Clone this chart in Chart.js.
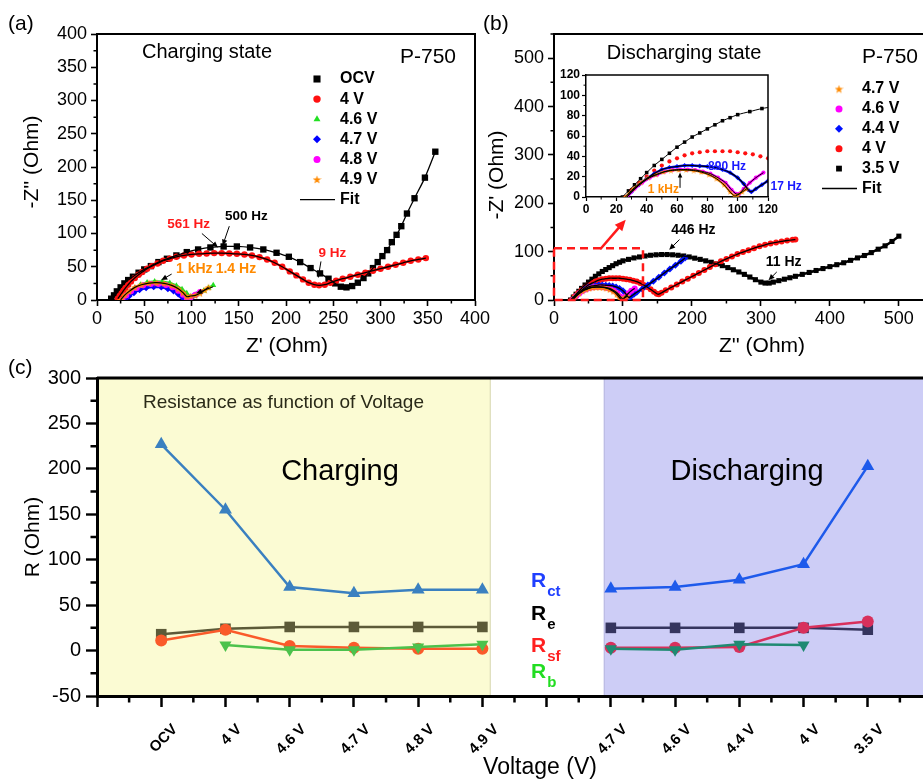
<!DOCTYPE html>
<html>
<head>
<meta charset="utf-8">
<script src="https://cdn.jsdelivr.net/npm/chart.js@4.4.1/dist/chart.umd.min.js"></script>
<style>
  body { margin: 0; background: #fff; width: 923px; height: 780px; overflow: hidden; position: relative; }
  canvas { position: absolute; }
</style>
</head>
<body>
<canvas id="panelA" width="500" height="360" style="left:0px;top:0px"></canvas>
<canvas id="panelB" width="443" height="360" style="left:480px;top:0px"></canvas>
<canvas id="inset" width="280" height="160" style="left:540px;top:60px"></canvas>
<canvas id="panelC" width="923" height="440" style="left:0px;top:340px"></canvas>
<script>
// ---- (a) charging state, Nyquist points [Z', -Z''] in Ohm ----
const ocvCharge = [[15,2],[18,7],[21,13],[25,19],[29,25],[33,30],[38,35],[44,41],[50,46],[57,51],[65,57],[74,62],[84,67],[95,72],[107,76],[120,79],[134,80.5],[148,80.5],[162,79],[176,76],[190,71],[203,65],[215,57],[226,48],[236,40],[245,32],[252,25],[258,20],[264,19],[270,21],[276,26],[282,33],[287,40],[292,48],[297,57],[302,66],[307,75],[312,87],[317,98],[322,111],[328,130],[336,153],[347,184],[358,223]];
const v4Charge = [[22,2],[24,6],[26,10],[28,14],[30,18],[33,23],[36,28],[40,33],[44,38],[48,42],[53,47],[58,51],[64,55],[70,59],[77,62],[84,65],[92,67],[100,68.5],[108,69.5],[116,70],[124,70.5],[132,70.5],[140,70],[148,69.5],[156,68.5],[164,67],[172,64.5],[180,61],[188,56],[196,50],[204,43],[211,37],[218,31],[224,26],[230,23],[235,22],[241,23],[247,26],[253,29],[260,32],[268,35],[276,38],[284,41],[292,44],[300,47],[308,50],[316,53],[324,56],[332,59],[340,61],[348,63]];
const v46Charge = [[28,1],[31,7],[35,13],[40,18],[46,23],[53,26.5],[61,28],[69,27.5],[77,25.5],[84,21.5],[90,16],[95,10],[99,5],[103,6],[108,10],[113,14],[118,18],[123,22]];
const v47Charge = [[30,0],[34,6],[39,11],[45,15.5],[52,18.5],[60,20],[68,19.5],[75,17],[81,13.5],[86,9],[90,4.5],[93,1],[97,2],[101,5],[105,8]];
const v48Charge = [[27,0],[31,7],[36,13],[42,18],[49,22],[57,24],[65,24],[73,22.5],[80,19],[86,14],[91,8],[95,3],[99,4],[104,8],[109,12]];
const v49Charge = [[25,0],[29,7],[34,13],[40,19],[47,23],[55,25.5],[63,26],[71,25],[79,22],[86,17],[91,11],[95,5],[99,6],[104,7],[109,10],[114,15],[118,19]];

// ---- (b) discharging state ----
const v35Dis = [[24,0],[28,6],[32,12],[36,18],[40,24],[45,31],[50,37],[55,43],[60,49],[65,54],[70,59],[75,63],[80,67],[85,71],[90,75],[95,78],[100,81],[108,84],[116,87],[124,89],[132,91],[140,92.5],[148,93.5],[156,94],[164,94],[172,93.5],[180,92.5],[188,91],[196,89],[204,86.5],[212,84],[220,81],[228,78],[236,74.5],[244,71],[252,67],[260,62.5],[268,58],[276,53],[284,47.5],[292,42],[300,37],[306,35],[312,35],[318,37],[326,40],[334,43],[342,46],[350,49],[360,53],[370,57],[380,61],[390,65],[400,69],[410,73],[420,77],[430,82],[440,87],[450,92],[460,98],[470,105],[480,112],[490,121],[500,132]];
const v4Dis = [[26,0],[30,7],[35,14],[40,20],[45,26],[50,31],[55,35],[60,38],[65,41],[70,43],[75,44],[80,45],[85,45],[90,45],[95,45],[100,44],[105,43],[110,42],[115,40],[120,38],[125,35],[130,31],[135,27],[140,22],[145,17],[149,13],[152,12],[156,15],[162,20],[170,26],[178,32],[186,38],[194,44],[202,50],[210,56],[218,62],[226,68],[234,74],[242,80],[250,85],[258,90],[266,95],[274,99],[282,103],[290,107],[298,111],[306,114],[314,117],[322,119],[330,121],[338,123],[346,124.5],[350,125]];
const v44Dis = [[27,0],[30,5],[35,12],[40,18],[45,23],[50,27],[55,29],[60,30],[65,31],[70,31],[75,30.5],[80,30],[85,29],[90,27],[95,24],[100,19],[104,13],[107,7],[109,5],[112,8],[116,12],[120,16],[128,23],[136,31],[144,39],[152,47],[160,56],[168,64],[176,72],[184,80],[190,87]];
const v46Dis = [[27,0],[32,8],[37,14],[42,19],[47,22],[52,25],[57,26.5],[62,27],[67,27],[72,26.5],[77,25],[82,23],[87,19],[92,14],[96,7],[99,3],[101,3],[104,8],[108,14],[112,19],[117,24]];
const v47Dis = [[26,0],[31,8],[36,14],[41,19],[46,22],[51,24.5],[56,26],[61,26.5],[66,26.5],[71,26],[76,24.5],[81,22],[86,18],[91,12],[95,5],[98,1],[100,2],[103,5],[106,8]];

// ---- (c) resistances vs voltage ----
const chargeLabels = ['OCV', '4 V', '4.6 V', '4.7 V', '4.8 V', '4.9 V'];
const dischargeLabels = ['4.7 V', '4.6 V', '4.4 V', '4 V', '3.5 V'];
const rctCharge = [227, 155, 70, 63, 67, 67];
const reCharge = [18, 24, 26, 26, 26, 26];
const rsfCharge = [11, 23, 5, 3, 2, 2];
const rbCharge = [null, 6, 1, 1, 4, 7];
const rctDischarge = [68, 70, 78, 95, 203];
const reDischarge = [25, 25, 25, 25, 23];
const rsfDischarge = [3, 3, 4, 25, 32];
const rbDischarge = [2, 1, 7, 6, null];

const FONT = '"Liberation Sans", Arial, Helvetica, sans-serif';
const font = (size, bold) => (bold ? 'bold ' : '') + size + 'px ' + FONT;
const axisFont = (size, bold) => ({ family: FONT, size, weight: bold ? 'bold' : 'normal' });
const pts = arr => arr.map(([x, y]) => ({ x, y }));

function starImage(color, size) {
  const c = document.createElement('canvas');
  c.width = c.height = size;
  const g = c.getContext('2d');
  g.fillStyle = color;
  g.beginPath();
  for (let i = 0; i < 10; i++) {
    const r = i % 2 ? size * 0.2 : size * 0.5;
    const a = -Math.PI / 2 + i * Math.PI / 5;
    g.lineTo(size / 2 + r * Math.cos(a), size * 0.55 + r * Math.sin(a));
  }
  g.closePath();
  g.fill();
  return c;
}

// marker styles shared by datasets and hand-drawn legends
const ORANGE = '#ff8a00';
const sA = {
  ocv: { color: '#000', style: 'rect', radius: 4.5 },
  v4: { color: '#ff1010', style: 'circle', radius: 3.2 },
  v46: { color: '#22e022', style: 'triangle', radius: 3.5 },
  v47: { color: '#0000ff', style: 'rectRot', radius: 3.5 },
  v48: { color: '#ff00ff', style: 'circle', radius: 3 },
  v49: { color: ORANGE, style: starImage(ORANGE, 8), radius: 4 },
};
const legendStar = starImage(ORANGE, 9);

function markers(arr, s, extra = {}) {
  return Object.assign({
    data: pts(arr), pointStyle: s.style, pointRadius: s.radius,
    pointBackgroundColor: s.color, pointBorderColor: s.color, pointBorderWidth: 0,
    borderColor: s.color, showLine: false,
  }, extra);
}
function fitLine(arr, width = 1.3) {
  return { data: pts(arr), showLine: true, borderColor: '#000', borderWidth: width, pointRadius: 0, tension: 0.25 };
}

function numAxis({ min, max, step, size, fnt, tickLen, pad, border }) {
  return {
    type: 'linear', min, max,
    afterFit: s => { if (s.isHorizontal()) s.height = size; else s.width = size; },
    afterBuildTicks: s => { s.ticks = s.ticks.filter(t => Math.abs(t.value / step - Math.round(t.value / step)) < 1e-6); },
    ticks: { stepSize: step, includeBounds: false, autoSkip: false, maxRotation: 0, minRotation: 0, color: '#000', font: fnt, padding: pad },
    grid: { drawOnChartArea: false, tickLength: tickLen, tickWidth: border * 0.8, tickColor: '#000' },
    border: { color: '#000', width: border },
  };
}

function baseOptions(padding, scales) {
  return {
    responsive: false, animation: false, devicePixelRatio: 1, events: [],
    layout: { autoPadding: false, padding },
    plugins: { legend: { display: false }, tooltip: { enabled: false } },
    scales,
  };
}

function drawArrow(ctx, x1, y1, x2, y2, color, width, head) {
  const ang = Math.atan2(y2 - y1, x2 - x1);
  const c = Math.cos(ang), s = Math.sin(ang);
  ctx.strokeStyle = color; ctx.fillStyle = color; ctx.lineWidth = width;
  ctx.beginPath(); ctx.moveTo(x1, y1); ctx.lineTo(x2 - c * head * 0.8, y2 - s * head * 0.8); ctx.stroke();
  ctx.beginPath(); ctx.moveTo(x2, y2);
  ctx.lineTo(x2 - head * c + head * 0.45 * s, y2 - head * s - head * 0.45 * c);
  ctx.lineTo(x2 - head * c - head * 0.45 * s, y2 - head * s + head * 0.45 * c);
  ctx.closePath(); ctx.fill();
}

// draws frame, minor ticks, annotations, legends and titles for one chart
function decor(cfg) {
  return {
    id: 'decor',
    beforeDraw(chart) {
      const { ctx, chartArea: a, scales: { x } } = chart;
      (cfg.bands || []).forEach(b => {
        const x1 = Math.max(a.left, x.getPixelForValue(b.from));
        const x2 = Math.min(a.right, x.getPixelForValue(b.to));
        ctx.save();
        ctx.fillStyle = b.color;
        ctx.fillRect(x1, a.top, x2 - x1, a.bottom - a.top);
        ctx.strokeStyle = b.edge; ctx.lineWidth = 1;
        ctx.beginPath();
        if (x1 > a.left + 1) { ctx.moveTo(x1 + 0.5, a.top); ctx.lineTo(x1 + 0.5, a.bottom); }
        if (x2 < a.right - 1) { ctx.moveTo(x2 - 0.5, a.top); ctx.lineTo(x2 - 0.5, a.bottom); }
        ctx.stroke();
        ctx.restore();
      });
    },
    afterDraw(chart) {
      const { ctx, chartArea: a, scales: { x, y } } = chart;
      const P = (data, px, py) => data ? [x.getPixelForValue(px), y.getPixelForValue(py)] : [px, py];
      ctx.save();
      if (cfg.frame) {
        ctx.strokeStyle = '#000'; ctx.lineWidth = cfg.frame.width;
        ctx.beginPath();
        ctx.moveTo(a.left, a.top); ctx.lineTo(a.right, a.top);
        if (cfg.frame.right) ctx.lineTo(a.right, a.bottom);
        ctx.stroke();
      }
      if (cfg.minor) {
        const m = cfg.minor;
        const isMajor = (v, st) => Math.abs(v / st - Math.round(v / st)) < 1e-6;
        ctx.strokeStyle = '#000'; ctx.lineWidth = m.width;
        ctx.beginPath();
        for (let v = Math.ceil(x.min / m.xStep) * m.xStep; v <= x.max + 1e-9; v += m.xStep) {
          if (isMajor(v, m.xMajor)) continue;
          const px = x.getPixelForValue(v);
          ctx.moveTo(px, a.bottom); ctx.lineTo(px, a.bottom + m.len);
        }
        for (let v = Math.ceil(y.min / m.yStep) * m.yStep; v <= y.max + 1e-9; v += m.yStep) {
          if (isMajor(v, m.yMajor)) continue;
          const py = y.getPixelForValue(v);
          ctx.moveTo(a.left, py); ctx.lineTo(a.left - m.len, py);
        }
        ctx.stroke();
      }
      (cfg.rects || []).forEach(r => {
        const [x1, y1] = P(true, r.x1, r.y1), [x2, y2] = P(true, r.x2, r.y2);
        ctx.strokeStyle = r.color; ctx.lineWidth = r.width; ctx.setLineDash(r.dash);
        ctx.strokeRect(x1, y2, x2 - x1, y1 - y2);
        ctx.setLineDash([]);
      });
      (cfg.arrows || []).forEach(r => {
        const [x1, y1] = P(r.data, r.x1, r.y1), [x2, y2] = P(r.data, r.x2, r.y2);
        drawArrow(ctx, x1, y1, x2, y2, r.color || '#000', r.width || 1, r.head || 6);
      });
      (cfg.texts || []).forEach(t => {
        const [px, py] = P(t.data, t.x, t.y);
        ctx.font = t.font; ctx.fillStyle = t.color || '#000';
        ctx.textAlign = t.align || 'center'; ctx.textBaseline = t.baseline || 'middle';
        ctx.save(); ctx.translate(px, py);
        if (t.rot) ctx.rotate(t.rot * Math.PI / 180);
        ctx.fillText(t.t, 0, 0);
        ctx.restore();
      });
      if (cfg.legend) {
        const L = cfg.legend;
        L.items.forEach((it, i) => {
          const yy = L.y + i * L.dy;
          if (it.line) {
            ctx.strokeStyle = '#000'; ctx.lineWidth = 1.3;
            ctx.beginPath(); ctx.moveTo(it.line[0], yy); ctx.lineTo(it.line[1], yy); ctx.stroke();
          } else {
            ctx.fillStyle = it.s.color; ctx.strokeStyle = it.s.color;
            Chart.helpers.drawPoint(ctx, { pointStyle: it.s.legendStyle || it.s.style, rotation: 0, radius: it.s.radius + 0.5, borderWidth: 0 }, L.mx, yy);
          }
          ctx.font = L.font; ctx.fillStyle = '#000'; ctx.textAlign = 'left'; ctx.textBaseline = 'middle';
          ctx.fillText(it.label, L.tx, yy);
        });
      }
      (cfg.subs || []).forEach(s => {
        ctx.fillStyle = s.color; ctx.textAlign = 'left'; ctx.textBaseline = 'alphabetic';
        ctx.font = cfg.subFont[0];
        ctx.fillText('R', s.x, s.y);
        const w = ctx.measureText('R').width;
        ctx.font = cfg.subFont[1];
        ctx.fillText(s.sub, s.x + w + 1, s.y + 9);
      });
      if (cfg.cats) {
        const C = cfg.cats;
        ctx.font = C.font; ctx.fillStyle = '#000'; ctx.textAlign = 'right'; ctx.textBaseline = 'middle';
        C.items.forEach(c => {
          ctx.save();
          ctx.translate(x.getPixelForValue(c.v) + C.dx, C.y);
          ctx.rotate(-Math.PI / 4);
          ctx.fillText(c.t, 0, 0);
          ctx.restore();
        });
      }
      ctx.restore();
    },
  };
}

// ================= (a) =================
new Chart(document.getElementById('panelA'), {
  type: 'scatter',
  data: {
    datasets: [
      fitLine(ocvCharge), fitLine(v4Charge), fitLine(v49Charge, 1.2),
      markers(v49Charge, sA.v49, { showLine: true, borderWidth: 2.5 }),
      markers(v48Charge, sA.v48, { showLine: true, borderWidth: 2.5 }),
      markers(v47Charge, sA.v47, { showLine: true, borderWidth: 2.5 }),
      markers(v46Charge, sA.v46, { showLine: true, borderWidth: 2.5 }),
      markers(v4Charge, sA.v4, { showLine: true, borderWidth: 2.5 }),
      markers(ocvCharge, sA.ocv),
    ],
  },
  options: baseOptions({ top: 34, right: 25, left: 0, bottom: 0 }, {
    x: numAxis({ min: 0, max: 400, step: 50, size: 60, fnt: axisFont(18), tickLen: 6, pad: 2, border: 2 }),
    y: numAxis({ min: 0, max: 400, step: 50, size: 97, fnt: axisFont(18), tickLen: 6, pad: 4, border: 2 }),
  }),
  plugins: [decor({
    frame: { width: 2, right: true },
    minor: { xStep: 25, xMajor: 50, yStep: 25, yMajor: 50, len: 3.5, width: 1.5 },
    arrows: [
      { data: true, x1: 111, y1: 100, x2: 128, y2: 79 },
      { data: true, x1: 140, y1: 111, x2: 133, y2: 82 },
      { data: true, x1: 237, y1: 58, x2: 234, y2: 33 },
      { data: true, x1: 79, y1: 39, x2: 68, y2: 30 },
      { data: true, x1: 123, y1: 20, x2: 105, y2: 10 },
    ],
    texts: [
      { t: '(a)', x: 8, y: 24, font: font(21), align: 'left' },
      { t: 'Charging state', x: 207, y: 52, font: font(20) },
      { t: 'P-750', x: 400, y: 57, font: font(21), align: 'left' },
      { t: "Z' (Ohm)", x: 287, y: 346, font: font(21) },
      { t: "-Z'' (Ohm)", x: 32, y: 162, font: font(21), rot: -90 },
      { data: true, t: '561 Hz', x: 97, y: 114, font: font(13.5, true), color: '#ff1a1a' },
      { data: true, t: '500 Hz', x: 158, y: 126, font: font(13.5, true) },
      { data: true, t: '9 Hz', x: 249, y: 71, font: font(13.5, true), color: '#ff1a1a' },
      { data: true, t: '1 kHz', x: 103, y: 47, font: font(14, true), color: ORANGE },
      { data: true, t: '1.4 Hz', x: 147, y: 47, font: font(14, true), color: ORANGE },
    ],
    legend: {
      mx: 317, tx: 340, y: 79, dy: 20.1, font: font(16, true),
      items: [
        { label: 'OCV', s: sA.ocv }, { label: '4 V', s: sA.v4 }, { label: '4.6 V', s: sA.v46 },
        { label: '4.7 V', s: sA.v47 }, { label: '4.8 V', s: sA.v48 },
        { label: '4.9 V', s: Object.assign({}, sA.v49, { legendStyle: legendStar }) },
        { label: 'Fit', line: [300, 335] },
      ],
    },
  })],
});

// ================= (b) =================
const sB = {
  v47: { color: ORANGE, style: starImage(ORANGE, 8), radius: 4 },
  v46: { color: '#ff00ff', style: 'circle', radius: 3 },
  v44: { color: '#0010ff', style: 'rectRot', radius: 3.5 },
  v4: { color: '#ff1010', style: 'circle', radius: 3 },
  v35: { color: '#000', style: 'rect', radius: 3.6 },
};
new Chart(document.getElementById('panelB'), {
  type: 'scatter',
  data: {
    datasets: [
      fitLine(v35Dis), fitLine(v4Dis), fitLine(v44Dis), fitLine(v46Dis), fitLine(v47Dis),
      markers(v47Dis, sB.v47, { showLine: true, borderWidth: 2.5 }),
      markers(v46Dis, sB.v46, { showLine: true, borderWidth: 2.5 }),
      markers(v44Dis, sB.v44, { showLine: true, borderWidth: 3 }),
      markers(v4Dis, sB.v4, { showLine: true, borderWidth: 2 }),
      markers(v35Dis, sB.v35, { showLine: true, borderWidth: 2.5 }),
    ],
  },
  options: baseOptions({ top: 34, right: 0, left: 0, bottom: 0 }, {
    x: numAxis({ min: 0, max: 535, step: 100, size: 60, fnt: axisFont(18), tickLen: 6, pad: 2, border: 2 }),
    y: numAxis({ min: 0, max: 550, step: 100, size: 74, fnt: axisFont(18), tickLen: 6, pad: 4, border: 2 }),
  }),
  plugins: [decor({
    frame: { width: 2, right: false },
    minor: { xStep: 50, xMajor: 100, yStep: 50, yMajor: 100, len: 3.5, width: 1.5 },
    rects: [{ x1: 0, y1: 0, x2: 129, y2: 107, color: '#ff1a1a', width: 2.5, dash: [8, 5] }],
    arrows: [
      { data: true, x1: 67, y1: 105, x2: 104, y2: 166, color: '#ff1a1a', width: 2.5, head: 11 },
      { data: true, x1: 182, y1: 125, x2: 167, y2: 104 },
      { data: true, x1: 323, y1: 58, x2: 311, y2: 41 },
    ],
    texts: [
      { t: '(b)', x: 3, y: 24, font: font(21), align: 'left' },
      { t: 'Discharging state', x: 204, y: 53, font: font(20) },
      { t: 'P-750', x: 382, y: 57, font: font(21), align: 'left' },
      { t: "Z'' (Ohm)", x: 282, y: 346, font: font(21) },
      { t: "-Z' (Ohm)", x: 17, y: 175, font: font(21), rot: -90 },
      { data: true, t: '446 Hz', x: 202, y: 145, font: font(14, true) },
      { data: true, t: '11 Hz', x: 333, y: 79, font: font(14, true) },
    ],
    legend: {
      mx: 359, tx: 382, y: 89, dy: 19.9, font: font(16, true),
      items: [
        { label: '4.7 V', s: Object.assign({}, sB.v47, { legendStyle: legendStar }) },
        { label: '4.6 V', s: sB.v46 }, { label: '4.4 V', s: sB.v44 },
        { label: '4 V', s: sB.v4 }, { label: '3.5 V', s: sB.v35 },
        { label: 'Fit', line: [342, 377] },
      ],
    },
  })],
});

// ================= (b) inset =================
const small = s => Object.assign({}, s, { radius: s.radius * 0.7 });
new Chart(document.getElementById('inset'), {
  type: 'scatter',
  data: {
    datasets: [
      fitLine(v35Dis, 1), fitLine(v44Dis, 1.2), fitLine(v46Dis, 1), fitLine(v47Dis, 1),
      markers(v47Dis, { color: ORANGE, style: starImage(ORANGE, 6), radius: 3 }, { showLine: true, borderWidth: 2 }),
      markers(v46Dis, small(sB.v46), { showLine: true, borderWidth: 2.5 }),
      markers(v44Dis, small(sB.v44), { showLine: true, borderWidth: 2.5 }),
      markers(v4Dis, small(sB.v4)),
      markers(v35Dis, small(sB.v35)),
    ],
  },
  options: baseOptions({ top: 15, right: 52, left: 0, bottom: 0 }, {
    x: numAxis({ min: 0, max: 120, step: 20, size: 23, fnt: axisFont(12, true), tickLen: 4, pad: 1, border: 1.5 }),
    y: numAxis({ min: 0, max: 120, step: 20, size: 46, fnt: axisFont(12, true), tickLen: 4, pad: 2, border: 1.5 }),
  }),
  plugins: [decor({
    frame: { width: 1.5, right: true },
    minor: { xStep: 10, xMajor: 20, yStep: 10, yMajor: 20, len: 2.5, width: 1 },
    arrows: [{ data: true, x1: 62, y1: 9, x2: 62, y2: 24, width: 1, head: 5 }],
    texts: [
      { data: true, t: '1 kHz', x: 51, y: 7, font: font(12, true), color: ORANGE },
      { data: true, t: '890 Hz', x: 93, y: 30, font: font(12, true), color: '#1a1aff' },
      { data: true, t: '17 Hz', x: 132, y: 10, font: font(12, true), color: '#1a1aff' },
    ],
  })],
});

// ================= (c) =================
const xCharge = chargeLabels.map((_, i) => i + 1);
const xDischarge = dischargeLabels.map((_, i) => i + chargeLabels.length + 2);
function rSeries(xs, ys, color, style, radius, rot = 0) {
  return {
    data: xs.map((x, i) => ({ x, y: ys[i] })).filter(p => p.y !== null),
    showLine: true, borderColor: color, borderWidth: 2.5,
    pointStyle: style, pointRadius: radius, pointRotation: rot,
    pointBackgroundColor: color, pointBorderColor: color, pointBorderWidth: 0,
  };
}
new Chart(document.getElementById('panelC'), {
  type: 'scatter',
  data: {
    datasets: [
      rSeries(xCharge, rbCharge, '#4cc24c', 'triangle', 7, 180),
      rSeries(xDischarge, rbDischarge, '#1f8a72', 'triangle', 7, 180),
      rSeries(xCharge, rsfCharge, '#fa5a2a', 'circle', 6),
      rSeries(xDischarge, rsfDischarge, '#d8305c', 'circle', 6),
      rSeries(xCharge, reCharge, '#5c5a38', 'rect', 7.5),
      rSeries(xDischarge, reDischarge, '#35355e', 'rect', 7.5),
      rSeries(xCharge, rctCharge, '#3a80c0', 'triangle', 7.5),
      rSeries(xDischarge, rctDischarge, '#1e5aeb', 'triangle', 7.5),
    ],
  },
  options: baseOptions({ top: 38, right: 0, left: 0, bottom: 0 }, {
    x: {
      type: 'linear', min: 0, max: 12.86,
      afterFit: s => { s.height = 84; },
      afterBuildTicks: s => { s.ticks = s.ticks.filter(t => Number.isInteger(t.value)); },
      ticks: { stepSize: 1, includeBounds: false, display: false },
      grid: { drawOnChartArea: false, tickLength: 11, tickWidth: 2.5, tickColor: '#000' },
      border: { color: '#000', width: 3 },
    },
    y: numAxis({ min: -50, max: 300, step: 50, size: 97, fnt: axisFont(20), tickLen: 11, pad: 5, border: 3 }),
  }),
  plugins: [decor({
    bands: [
      { from: 0, to: 6.13, color: '#fbfbd3', edge: '#d6d6b4' },
      { from: 7.89, to: 13, color: '#cdcdf6', edge: '#b8b8e0' },
    ],
    frame: { width: 3, right: false },
    minor: { xStep: 0.5, xMajor: 1, yStep: 25, yMajor: 50, len: 6.5, width: 2.5 },
    texts: [
      { t: '(c)', x: 8, y: 28, font: font(21), align: 'left' },
      { t: 'Resistance as function of Voltage', x: 143, y: 63, font: font(19), align: 'left', color: '#2a2a18' },
      { t: 'Charging', x: 340, y: 132, font: font(29) },
      { t: 'Discharging', x: 747, y: 132, font: font(29) },
      { t: 'R (Ohm)', x: 33, y: 197, font: font(21), rot: -90 },
      { t: 'Voltage (V)', x: 540, y: 434, font: font(23), baseline: 'alphabetic' },
    ],
    subFont: [font(21, true), font(15, true)],
    subs: [
      { sub: 'ct', x: 531, y: 247, color: '#1f3fff' },
      { sub: 'e', x: 531, y: 280, color: '#000' },
      { sub: 'sf', x: 531, y: 312, color: '#ff2020' },
      { sub: 'b', x: 531, y: 338, color: '#22dd22' },
    ],
    cats: {
      font: font(15, true), dx: 14, y: 387,
      items: chargeLabels.map((t, i) => ({ t, v: xCharge[i] }))
        .concat(dischargeLabels.map((t, i) => ({ t, v: xDischarge[i] }))),
    },
  })],
});
</script>
</body>
</html>
